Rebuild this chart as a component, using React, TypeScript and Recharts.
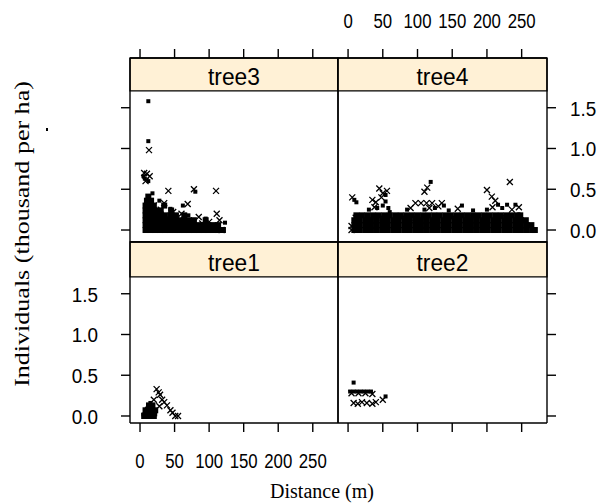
import { ScatterChart, Scatter, XAxis, YAxis, ReferenceArea } from 'recharts';

type Pt = [number, number];
type Row = [number, number[]];

// axis setup shared by the four lattice panels
const xTicks = [0, 50, 100, 150, 200, 250];
const yTicks = [0, 0.5, 1, 1.5];
const X_DOMAIN: [number, number] = [-14.5, 286.5];
const TOP_Y: [number, number] = [-0.147, 2.11];
const BOT_Y: [number, number] = [-0.086, 2.135];
const STRIP_Y = 1.706;

// tree3 (top left)
const tree3Sq: Pt[] = [
  [12, 1.58], [12, 1.09], [7, 0.63], [12, 0.6], [5, 0.66], [80, 0.47], [62, 0.3],
  [123, 0.09], [28, 0.36], [44, 0.26], [70, 0.18], [95, 0.14], [18, 0.45],
];
const tree3Cr: Pt[] = [
  [13, 0.98], [6, 0.7], [10, 0.69], [14, 0.66], [8, 0.6], [41, 0.48], [78, 0.5],
  [110, 0.48], [20, 0.3], [48, 0.22], [69, 0.32], [55, 0.1], [90, 0.08], [100, 0.1],
  [111, 0.2], [118, 0.0], [105, 0.05], [40, 0.15], [35, 0.33], [60, 0.2], [85, 0.16],
  [30, 0.25], [115, 0.12],
];
const tree3Dense: Row[] = [
  [0, [8, 15, 22, 29, 36, 43, 50, 57, 64, 71, 78, 85, 92, 99, 106, 113, 120]],
  [0.06, [8, 15, 22, 29, 36, 43, 50, 57, 64, 71, 78, 85, 92, 99, 106, 113]],
  [0.12, [8, 15, 22, 29, 36, 43, 50, 57, 64, 71, 78, 95]],
  [0.18, [8, 15, 22, 29, 36, 44, 52, 64]],
  [0.24, [8, 15, 22, 30, 45]],
  [0.3, [8, 14, 20, 35]],
  [0.36, [10, 16]],
  [0.41, [12]],
];

// tree4 (top right)
const tree4Sq: Pt[] = [
  [9, 0.37], [12, 0.34], [54, 0.43], [54, 0.35], [50, 0.3], [58, 0.27], [119, 0.59],
  [138, 0.3], [164, 0.3], [216, 0.31], [229, 0.31], [241, 0.31], [30, 0.25], [85, 0.25],
  [125, 0.27], [180, 0.24], [200, 0.25], [42, 0.27], [60, 0.22], [110, 0.25], [145, 0.24],
  [222, 0.27],
];
const tree4Cr: Pt[] = [
  [6, 0.4], [35, 0.37], [40, 0.34], [45, 0.51], [50, 0.45], [110, 0.47], [97, 0.33],
  [105, 0.33], [113, 0.33], [121, 0.33], [135, 0.33], [200, 0.49], [207, 0.41],
  [212, 0.36], [233, 0.59], [11, 0.15], [50, 0.15], [78, 0.15], [97, 0.15], [150, 0.15],
  [173, 0.15], [197, 0.15], [221, 0.15], [246, 0.28], [5, 0.05], [5, 0.0], [48, 0.4],
  [56, 0.48], [38, 0.28], [90, 0.27], [117, 0.27], [130, 0.29], [158, 0.26], [208, 0.28],
  [236, 0.25], [114, 0.52],
];
const tree4Dense: Row[] = [
  [0, [9, 17, 25, 33, 41, 49, 57, 65, 73, 81, 89, 97, 105, 113, 121, 129, 137, 145, 153, 161, 169, 177, 185, 193, 201, 209, 217, 225, 233, 241, 249, 257, 265, 269]],
  [0.06, [9, 17, 25, 33, 41, 49, 57, 65, 73, 81, 89, 97, 105, 113, 121, 129, 137, 145, 153, 161, 169, 177, 185, 193, 201, 209, 217, 225, 233, 241, 249, 257, 264]],
  [0.12, [9, 17, 25, 33, 41, 49, 57, 65, 73, 81, 89, 97, 105, 113, 121, 129, 137, 145, 153, 161, 169, 177, 185, 193, 201, 209, 217, 225, 233, 241, 249, 256]],
  [0.18, [12, 20, 28, 36, 44, 52, 60, 68, 76, 84, 92, 100, 108, 116, 124, 132, 140, 148, 156, 164, 172, 180, 188, 196, 204, 212, 220, 228, 236, 244, 248]],
];

// tree1 (bottom left)
const tree1Sq: Pt[] = [
  [5, 0.02], [8, 0.0], [8, 0.06], [12, 0.04], [12, 0.12], [15, 0.16], [18, 0.1],
  [20, 0.06], [16, 0.0], [22, 0.02], [10, 0.09],
];
const tree1Cr: Pt[] = [
  [24, 0.33], [27, 0.29], [29, 0.26], [32, 0.2], [35, 0.17], [39, 0.13], [44, 0.07],
  [47, 0.04], [51, 0.0], [55, 0.0], [28, 0.12], [20, 0.2],
];
const tree1Dense: Row[] = [
  [0, [6, 13, 20]],
  [0.07, [8, 15, 22]],
  [0.13, [13, 18]],
];

// tree2 (bottom right)
const tree2Sq: Pt[] = [
  [8, 0.41], [3, 0.3], [8, 0.3], [13, 0.3], [18, 0.3], [23, 0.3], [28, 0.3], [33, 0.3],
  [54, 0.24],
];
const tree2Cr: Pt[] = [
  [5, 0.28], [15, 0.28], [25, 0.28], [35, 0.27], [8, 0.16], [14, 0.15], [20, 0.17],
  [27, 0.16], [35, 0.15], [40, 0.17], [50, 0.2],
];

const toPts = (a: Pt[]) => a.map(([x, y]) => ({ x, y }));
const rowsToPts = (rows: Row[]) => rows.flatMap(([y, xs]) => xs.map((x) => ({ x, y })));

const SANS = "'Liberation Sans', Arial, sans-serif";
const SERIF = "'Liberation Serif', 'Times New Roman', serif";
const M = 60;
const LINE = { stroke: '#000', strokeWidth: 1.4 };

const square = (size: number) => (p: any) => (
  <rect x={p.cx - size / 2} y={p.cy - size / 2} width={size} height={size} fill="#000" />
);

const Cross = (p: any) => (
  <path
    d={`M${p.cx - 3},${p.cy - 3}L${p.cx + 3},${p.cy + 3}M${p.cx - 3},${p.cy + 3}L${p.cx + 3},${p.cy - 3}`}
    stroke="#000"
    strokeWidth={1.3}
  />
);

const NoTick = () => null;

function TickText(props: any) {
  const { x, y, payload, side } = props;
  const v = payload.value as number;
  let tx = x;
  let ty = y;
  let anchor = 'middle';
  let sx = 0.8;
  let label = String(v);
  if (side === 'top') ty = y - 19;
  else if (side === 'bottom') ty = y + 34;
  else {
    label = v.toFixed(1);
    sx = 0.9;
    ty = y + 8;
    if (side === 'left') {
      tx = x - 21;
      anchor = 'end';
    } else {
      tx = x + 12;
      anchor = 'start';
    }
  }
  return (
    <text
      transform={`translate(${tx},${ty}) scale(${sx},1)`}
      textAnchor={anchor}
      fontFamily={SANS}
      fontSize={21}
      fill="#000"
    >
      {label}
    </text>
  );
}

type Side = 'off' | 'ticks' | 'labels';

interface PanelProps {
  name: string;
  left: number;
  top: number;
  w: number;
  h: number;
  yDomain: [number, number];
  sq: Pt[];
  cr: Pt[];
  dense: Row[];
  t: Side;
  b: Side;
  l: Side;
  r: Side;
}

function Panel({ name, left, top, w, h, yDomain, sq, cr, dense, t, b, l, r }: PanelProps) {
  const tickFor = (s: Side, side: string) =>
    s === 'labels' ? <TickText side={side} /> : <NoTick />;
  const tl = (s: Side) => (s === 'off' ? false : LINE);
  return (
    <div style={{ position: 'absolute', left: left - M, top: top - M }}>
      <ScatterChart width={w + 2 * M} height={h + 2 * M} margin={{ top: 0, right: 0, bottom: 0, left: 0 }}>
        <XAxis xAxisId="t" orientation="top" type="number" dataKey="x" domain={X_DOMAIN} ticks={xTicks}
          allowDataOverflow height={M} axisLine={LINE} tickSize={9} tickLine={tl(t)} tick={tickFor(t, 'top')} />
        <XAxis xAxisId="b" orientation="bottom" type="number" dataKey="x" domain={X_DOMAIN} ticks={xTicks}
          allowDataOverflow height={M} axisLine={LINE} tickSize={9} tickLine={tl(b)} tick={tickFor(b, 'bottom')} />
        <YAxis yAxisId="l" orientation="left" type="number" dataKey="y" domain={yDomain} ticks={yTicks}
          allowDataOverflow width={M} axisLine={LINE} tickSize={9} tickLine={tl(l)} tick={tickFor(l, 'left')} />
        <YAxis yAxisId="r" orientation="right" type="number" dataKey="y" domain={yDomain} ticks={yTicks}
          allowDataOverflow width={M} axisLine={LINE} tickSize={9} tickLine={tl(r)} tick={tickFor(r, 'right')} />
        <ReferenceArea
          xAxisId="b"
          yAxisId="l"
          x1={X_DOMAIN[0]}
          x2={X_DOMAIN[1]}
          y1={STRIP_Y}
          y2={yDomain[1]}
          fill="#fff1d6"
          fillOpacity={1}
          stroke="#000"
          strokeWidth={1.3}
          label={(p: any) => {
            const vb = p.viewBox;
            return (
              <text transform={`translate(${vb.x + vb.width / 2},${vb.y + vb.height - 6}) scale(0.95,1)`}
                textAnchor="middle" fontFamily={SANS} fontSize={24} fill="#000">
                {name}
              </text>
            );
          }}
        />
        <Scatter xAxisId="b" yAxisId="l" data={rowsToPts(dense)} shape={square(6)} isAnimationActive={false} />
        <Scatter xAxisId="b" yAxisId="l" data={toPts(sq)} shape={square(4)} isAnimationActive={false} />
        <Scatter xAxisId="b" yAxisId="l" data={toPts(cr)} shape={Cross} isAnimationActive={false} />
      </ScatterChart>
    </div>
  );
}

export default function App() {
  return (
    <div style={{ position: 'absolute', left: 0, top: 0, width: 600, height: 504, background: '#fff', overflow: 'hidden' }}>
      <Panel name="tree3" left={130} top={58} w={208} h={184} yDomain={TOP_Y}
        sq={tree3Sq} cr={tree3Cr} dense={tree3Dense} t="ticks" b="off" l="ticks" r="off" />
      <Panel name="tree4" left={338} top={58} w={209} h={184} yDomain={TOP_Y}
        sq={tree4Sq} cr={tree4Cr} dense={tree4Dense} t="labels" b="off" l="off" r="labels" />
      <Panel name="tree1" left={130} top={242} w={208} h={181} yDomain={BOT_Y}
        sq={tree1Sq} cr={tree1Cr} dense={tree1Dense} t="off" b="labels" l="labels" r="off" />
      <Panel name="tree2" left={338} top={242} w={209} h={181} yDomain={BOT_Y}
        sq={tree2Sq} cr={tree2Cr} dense={[]} t="off" b="ticks" l="off" r="ticks" />
      <svg width={600} height={504} style={{ position: 'absolute', left: 0, top: 0, pointerEvents: 'none' }}>
        <text
          transform="translate(29,234) rotate(-90) scale(1.24,1)"
          textAnchor="middle"
          fontFamily={SERIF}
          fontSize={21}
          fill="#000"
        >
          Individuals (thousand per ha)
        </text>
        <rect x={46} y={128} width={2} height={3} fill="#000" />
        <text x={322} y={498} textAnchor="middle" fontFamily={SERIF} fontSize={20} fill="#000">
          Distance (m)
        </text>
      </svg>
    </div>
  );
}
